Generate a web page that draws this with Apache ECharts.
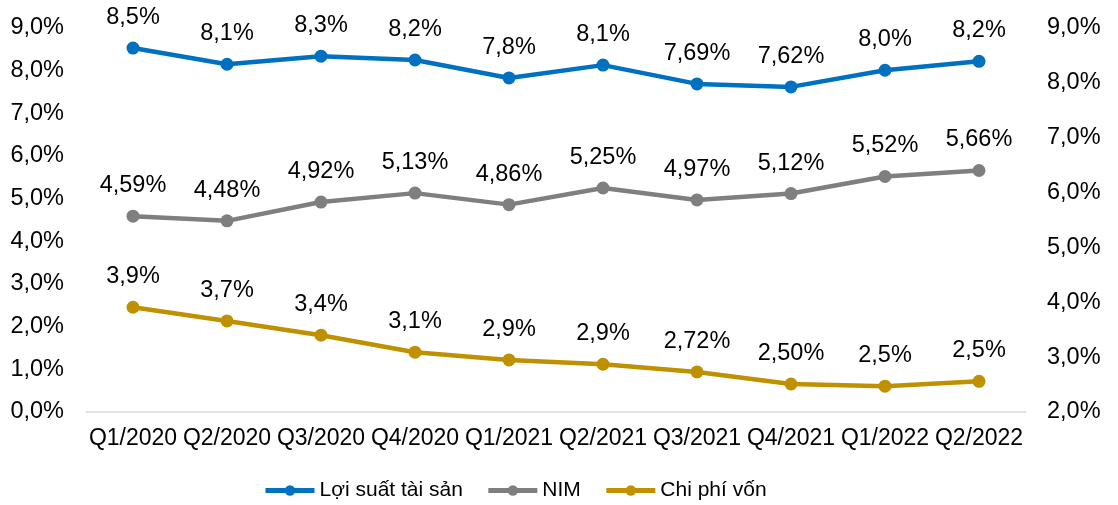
<!DOCTYPE html>
<html>
<head>
<meta charset="utf-8">
<script src="https://cdn.jsdelivr.net/npm/echarts@6/dist/echarts.min.js"></script>
<style>
html,body{margin:0;padding:0;background:#fff;}
#chart{width:1118px;height:505px;}
</style>
</head>
<body>
<div id="chart"></div>
<script>
const categories = ['Q1/2020','Q2/2020','Q3/2020','Q4/2020','Q1/2021','Q2/2021','Q3/2021','Q4/2021','Q1/2022','Q2/2022'];
const seriesNames = ['Lợi suất tài sản','NIM','Chi phí vốn'];
const yieldValues = [8.53, 8.15, 8.34, 8.25, 7.83, 8.13, 7.69, 7.62, 8.01, 8.22];
const yieldLabels = ['8,5%','8,1%','8,3%','8,2%','7,8%','8,1%','7,69%','7,62%','8,0%','8,2%'];
const nimValues = [4.59, 4.48, 4.92, 5.13, 4.86, 5.25, 4.97, 5.12, 5.52, 5.66];
const nimLabels = ['4,59%','4,48%','4,92%','5,13%','4,86%','5,25%','4,97%','5,12%','5,52%','5,66%'];
const costValues = [3.91, 3.66, 3.40, 3.09, 2.95, 2.87, 2.73, 2.51, 2.47, 2.56];
const costLabels = ['3,9%','3,7%','3,4%','3,1%','2,9%','2,9%','2,72%','2,50%','2,5%','2,5%'];
const colors = ['#0070C0','#7F7F7F','#BF9000'];

const FONT = 'Liberation Sans, Arial, sans-serif';
const FS = 23.5;
const pct = v => v.toFixed(1).replace('.', ',') + '%';

function mkSeries(i, data, labels, axisIdx) {
  return {
    name: seriesNames[i],
    type: 'line',
    yAxisIndex: axisIdx,
    data: data,
    symbol: 'circle',
    symbolSize: 13,
    color: colors[i],
    lineStyle: { width: 4.5, color: colors[i] },
    itemStyle: { color: colors[i] },
    label: {
      show: true,
      position: 'top',
      distance: 12,
      color: '#000',
      fontFamily: FONT,
      fontSize: FS,
      formatter: p => labels[p.dataIndex]
    },
    animation: false
  };
}

const chart = echarts.init(document.getElementById('chart'));
chart.setOption({
  animation: false,
  grid: { left: 86, right: 92, top: 28, bottom: 93, containLabel: false },
  legend: {
    top: 480,
    left: 263,
    padding: 0,
    itemWidth: 49,
    itemHeight: 13,
    itemGap: 23,
    lineStyle: { width: 5 },
    textStyle: { fontFamily: FONT, fontSize: 21, color: '#000' },
    data: seriesNames
  },
  xAxis: {
    type: 'category',
    data: categories,
    boundaryGap: true,
    axisLine: { lineStyle: { color: '#d9d9d9', width: 1.5 } },
    axisTick: { show: false },
    axisLabel: { color: '#000', fontFamily: FONT, fontSize: 23, margin: 15, interval: 0 }
  },
  yAxis: [
    {
      type: 'value', min: 0, max: 9, interval: 1, position: 'left',
      axisLine: { show: false }, axisTick: { show: false }, splitLine: { show: false },
      axisLabel: { color: '#000', fontFamily: FONT, fontSize: FS, margin: 22, formatter: pct }
    },
    {
      type: 'value', min: 2, max: 9, interval: 1, position: 'right',
      axisLine: { show: false }, axisTick: { show: false }, splitLine: { show: false },
      axisLabel: { color: '#000', fontFamily: FONT, fontSize: FS, margin: 21, formatter: pct }
    }
  ],
  series: [
    mkSeries(0, yieldValues, yieldLabels, 0),
    mkSeries(1, nimValues, nimLabels, 0),
    mkSeries(2, costValues, costLabels, 1)
  ]
});
</script>
</body>
</html>
